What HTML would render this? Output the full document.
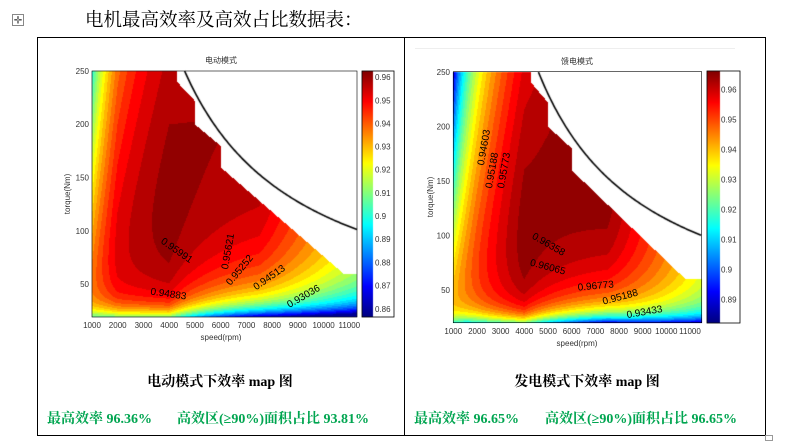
<!DOCTYPE html>
<html><head><meta charset="utf-8">
<style>
html,body{margin:0;padding:0;background:#fff;width:806px;height:441px;overflow:hidden;position:relative}
canvas{position:absolute;left:0;top:0}
svg{position:absolute;left:0;top:0}
.t{font-family:"Liberation Sans","Noto Sans CJK SC",sans-serif;font-size:8px;fill:#333}
.cl{font-family:"Liberation Sans",sans-serif;font-size:10px;fill:#000}
.cap{font-family:"Liberation Serif","Noto Serif CJK SC",serif;font-weight:bold;font-size:14px;fill:#000}
.g{font-family:"Liberation Serif","Noto Serif CJK SC",serif;font-weight:bold;font-size:14px;fill:#00a550}
</style></head><body>
<canvas id="c" width="806" height="441"></canvas>
<svg width="806" height="441" viewBox="0 0 806 441">
<rect x="12.5" y="14.5" width="11" height="11" fill="none" stroke="#888" stroke-width="1"/>
<text x="18" y="23.5" font-size="10" text-anchor="middle" fill="#444" font-family="DejaVu Sans,sans-serif">✛</text>
<text x="85" y="26" font-family="'Liberation Serif','Noto Serif CJK SC',serif" font-size="18.5" fill="#000">电机最高效率及高效占比数据表：</text>
<rect x="37.5" y="37.5" width="728" height="398" fill="none" stroke="#000" stroke-width="1"/>
<line x1="404.5" y1="37" x2="404.5" y2="436" stroke="#000"/>
<rect x="765.5" y="435.5" width="7" height="5" fill="none" stroke="#999"/>
<line x1="415" y1="48.5" x2="735" y2="48.5" stroke="#eee"/>

<rect x="92" y="71" width="265" height="246" fill="none" stroke="#000" stroke-width="0.6"/>
<rect x="362" y="71" width="32" height="246" fill="none" stroke="#000" stroke-width="0.8"/>
<text class="t" x="221" y="63" text-anchor="middle">电动模式</text>
<g class="t" text-anchor="middle">
<text x="92" y="328">1000</text><text x="117.7" y="328">2000</text><text x="143.5" y="328">3000</text><text x="169.2" y="328">4000</text><text x="194.9" y="328">5000</text><text x="220.7" y="328">6000</text><text x="246.4" y="328">7000</text><text x="272.1" y="328">8000</text><text x="297.8" y="328">9000</text><text x="323.6" y="328">10000</text><text x="349.3" y="328">11000</text>
<text x="221" y="340">speed(rpm)</text>
</g>
<g class="t" text-anchor="end">
<text x="89" y="74">250</text><text x="89" y="127">200</text><text x="89" y="180.5">150</text><text x="89" y="234">100</text><text x="89" y="287">50</text>
</g>
<text class="t" transform="translate(70,194) rotate(-90)" text-anchor="middle">torque(Nm)</text>
<g class="t">
<text x="375" y="80">0.96</text><text x="375" y="103.5">0.95</text><text x="375" y="126.5">0.94</text><text x="375" y="149.5">0.93</text><text x="375" y="172.5">0.92</text><text x="375" y="196">0.91</text><text x="375" y="219">0.9</text><text x="375" y="242">0.89</text><text x="375" y="265.5">0.88</text><text x="375" y="288.5">0.87</text><text x="375" y="312">0.86</text>
</g>
<g class="cl">
<text transform="translate(175,253) rotate(35)" text-anchor="middle">0.95991</text>
<text transform="translate(231,252) rotate(-80)" text-anchor="middle">0.95621</text>
<text transform="translate(242,272) rotate(-50)" text-anchor="middle">0.95252</text>
<text transform="translate(271,280) rotate(-35)" text-anchor="middle">0.94513</text>
<text transform="translate(168,297) rotate(8)" text-anchor="middle">0.94883</text>
<text transform="translate(305,299) rotate(-30)" text-anchor="middle">0.93036</text>
</g>
<text class="cap" x="220" y="386" text-anchor="middle">电动模式下效率 map 图</text>
<text class="g" x="47" y="423">最高效率 96.36%</text>
<text class="g" x="177" y="423">高效区(≥90%)面积占比 93.81%</text>

<rect x="453.3" y="71.7" width="248.4" height="251" fill="none" stroke="#000" stroke-width="0.6"/>
<rect x="707" y="71" width="33" height="252" fill="none" stroke="#000" stroke-width="0.8"/>
<text class="t" x="577" y="64" text-anchor="middle">馈电模式</text>
<g class="t" text-anchor="middle">
<text x="453.3" y="334">1000</text><text x="477" y="334">2000</text><text x="500.6" y="334">3000</text><text x="524.3" y="334">4000</text><text x="548" y="334">5000</text><text x="571.7" y="334">6000</text><text x="595.3" y="334">7000</text><text x="619" y="334">8000</text><text x="642.7" y="334">9000</text><text x="666.3" y="334">10000</text><text x="690" y="334">11000</text>
<text x="577" y="346">speed(rpm)</text>
</g>
<g class="t" text-anchor="end">
<text x="450" y="75">250</text><text x="450" y="129.3">200</text><text x="450" y="184">150</text><text x="450" y="238.4">100</text><text x="450" y="293">50</text>
</g>
<text class="t" transform="translate(433,197) rotate(-90)" text-anchor="middle">torque(Nm)</text>
<g class="t">
<text x="721" y="92.3">0.96</text><text x="721" y="122.3">0.95</text><text x="721" y="152.3">0.94</text><text x="721" y="182.3">0.93</text><text x="721" y="212.3">0.92</text><text x="721" y="242.3">0.91</text><text x="721" y="272.3">0.9</text><text x="721" y="302.3">0.89</text>
</g>
<g class="cl">
<text transform="translate(487,148) rotate(-80)" text-anchor="middle">0.94603</text>
<text transform="translate(495,171) rotate(-80)" text-anchor="middle">0.95188</text>
<text transform="translate(507,171) rotate(-80)" text-anchor="middle">0.95773</text>
<text transform="translate(547,247) rotate(30)" text-anchor="middle">0.96358</text>
<text transform="translate(547,270) rotate(15)" text-anchor="middle">0.96065</text>
<text transform="translate(596,289) rotate(-5)" text-anchor="middle">0.96773</text>
<text transform="translate(621,300) rotate(-15)" text-anchor="middle">0.95188</text>
<text transform="translate(645,315) rotate(-10)" text-anchor="middle">0.93433</text>
</g>
<text class="cap" x="587" y="386" text-anchor="middle">发电模式下效率 map 图</text>
<text class="g" x="414" y="423">最高效率 96.65%</text>
<text class="g" x="545" y="423">高效区(≥90%)面积占比 96.65%</text>
</svg>
<script>
(function(){
var cv=document.getElementById('c'),ctx=cv.getContext('2d');
function cl(v){return v<0?0:v>1?1:v;}
function jet(t){return [cl(1.5-Math.abs(4*t-3)),cl(1.5-Math.abs(4*t-2)),cl(1.5-Math.abs(4*t-1))];}
var poly=[[1000,20],[1000,250],[4300,250],[4300,240],[5000,222],[5000,200],[6000,180],[6000,160],[10800,60],[11500,60],[11500,20]];
function inside(x,y){var c=false;for(var i=0,j=poly.length-1;i<poly.length;j=i++){var xi=poly[i][0],yi=poly[i][1],xj=poly[j][0],yj=poly[j][1];
 if(((yi>y)!=(yj>y))&&(x<(xj-xi)*(y-yi)/(yj-yi)+xi))c=!c;}return c;}
var W5=[105,209,419,786,1152];
function interp(w,arr){var N=W5.length;if(w<=W5[0])return arr[0];for(var i=1;i<N;i++){if(w<=W5[i]){var f=(w-W5[i-1])/(W5[i]-W5[i-1]);return arr[i-1]+f*(arr[i]-arr[i-1]);}}
 var f=(w-W5[N-2])/(W5[N-1]-W5[N-2]);return arr[N-2]+f*(arr[N-1]-arr[N-2]);}
var LM=[81,200,419,1760,2350],CM=[0.037,0.026,0.0235,0.024,0.0575];
var LG=[50,150,300,1150,1000],CG=[0.0354,0.029,0.0205,0.019,0.049];
function low(T){return 0.024*Math.exp(-(T-20)/7);}
function effM(n,T){var w=n*Math.PI/30;var r=interp(w,CM)+0.0298*T/w+interp(w,LM)/(T*w)+low(T);return 1/(1+r);}
function effG(n,T){var w=n*Math.PI/30;var r=interp(w,CG)+0.0314*T/w+interp(w,LG)/(T*w)+0.8*low(T);return 1-r;}
function draw(o){
 var img=ctx.createImageData(Math.ceil(o.x1-o.x0),Math.ceil(o.y1-o.y0));var W=img.width,H=img.height,NL=28,step=(o.vmax-o.vmin)/NL;
 for(var py=0;py<H;py++)for(var px=0;px<W;px++){
  var n=o.n0+(px+0.5)/W*(o.n1-o.n0),T=o.T1-(py+0.5)/H*(o.T1-o.T0);var k=(py*W+px)*4;
  if(!inside(n,T)){img.data[k]=img.data[k+1]=img.data[k+2]=255;img.data[k+3]=255;continue;}
  var e=o.f(n,T);var q=Math.floor((e-o.vmin)/step);q=Math.max(0,Math.min(NL-1,q));var t=(q+0.5)/NL;var c=jet(t);
  img.data[k]=c[0]*255;img.data[k+1]=c[1]*255;img.data[k+2]=c[2]*255;img.data[k+3]=255;}
 ctx.putImageData(img,Math.round(o.x0),Math.round(o.y0));
 for(var y=0;y<o.cb[3];y++){var t=1-(y+0.5)/o.cb[3];var c=jet(t);ctx.fillStyle='rgb('+(c[0]*255|0)+','+(c[1]*255|0)+','+(c[2]*255|0)+')';ctx.fillRect(o.cb[0],o.cb[1]+y,o.cb[2],1);}
 ctx.strokeStyle='#000';ctx.lineWidth=1.6;ctx.beginPath();
 for(var n=4600;n<=o.nc;n+=50){var T=1.15e6/n;var X=o.x0+(n-o.n0)/(o.n1-o.n0)*(o.x1-o.x0),Y=o.y0+(o.T1-T)/(o.T1-o.T0)*(o.y1-o.y0);if(n==4600)ctx.moveTo(X,Y);else ctx.lineTo(X,Y);}
 ctx.stroke();
}
draw({x0:92,x1:357,y0:71,y1:317,n0:1000,n1:11300,T0:20,T1:250,f:effM,vmin:0.857,vmax:0.9628,cb:[362,71,11,246],nc:11300});
draw({x0:453,x1:702,y0:72,y1:323,n0:1000,n1:11490,T0:20,T1:250,f:effG,vmin:0.882,vmax:0.966,cb:[707,71,13,252],nc:11490});
})();
</script>
</body></html>
